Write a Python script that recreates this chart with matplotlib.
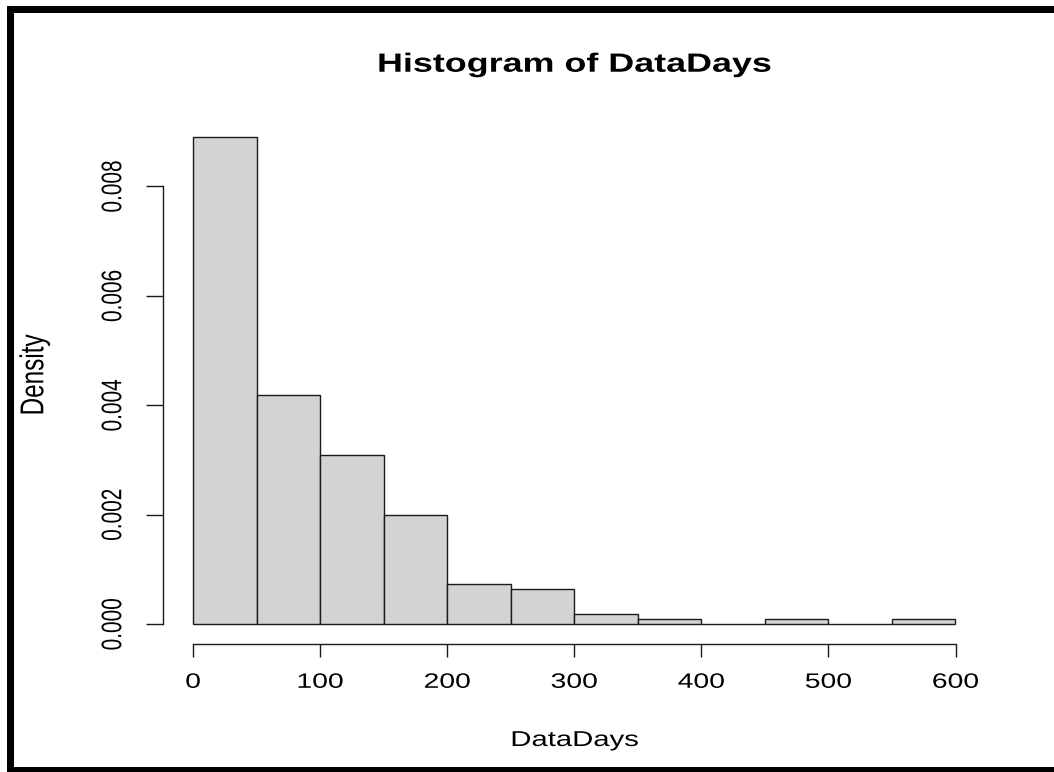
import numpy as np
import matplotlib
matplotlib.use("Agg")
import matplotlib.pyplot as plt
from matplotlib.patches import Rectangle
from matplotlib.patheffects import AbstractPathEffect
from matplotlib.transforms import Affine2D

# histogram of DataDays: bin edges and counts per bin
bin_edges = [0, 50, 100, 150, 200, 250, 300, 350, 400, 450, 500, 550, 600]
counts = [98, 46, 34, 22, 8, 7, 2, 1, 0, 1, 0, 1]

xticks = [0, 100, 200, 300, 400, 500, 600]
xtick_labels = ["0", "100", "200", "300", "400", "500", "600"]
yticks = [0.000, 0.002, 0.004, 0.006, 0.008]
ytick_labels = ["0.000", "0.002", "0.004", "0.006", "0.008"]

edges = np.array(bin_edges, dtype=float)
widths = np.diff(edges)
density = np.array(counts) / (np.sum(counts) * widths)


class Widen(AbstractPathEffect):
    """Stretch drawn text horizontally about its own centre."""

    def __init__(self, sx):
        super().__init__()
        self.sx = sx

    def draw_path(self, renderer, gc, tpath, affine, rgbFace=None):
        pts = affine.transform(tpath.vertices)
        if len(pts):
            cx = (pts[:, 0].min() + pts[:, 0].max()) / 2
            affine = affine + Affine2D().translate(-cx, 0).scale(self.sx, 1).translate(cx, 0)
        renderer.draw_path(gc, tpath, affine, rgbFace)


W, H = 1054, 772
fig = plt.figure(figsize=(W / 100, H / 100), dpi=100)
plt.rcParams['font.family'] = ['Liberation Sans', 'DejaVu Sans']

# plot region in pixels
left, right, top, bottom = 162.5, 986.0, 117.0, 643.5
ax = fig.add_axes([left / W, 1 - bottom / H, (right - left) / W, (bottom - top) / H])

ax.bar(edges[:-1], density, width=widths, align='edge',
       color='#d3d3d3', edgecolor='#1a1a1a', linewidth=1.0)

# R style limits: 4% padding on each side
xr = edges[-1] - edges[0]
ax.set_xlim(edges[0] - 0.04 * xr, edges[-1] + 0.04 * xr)
ymax = density.max()
ax.set_ylim(-0.04 * ymax, 1.04 * ymax)

for s in ['top', 'right']:
    ax.spines[s].set_visible(False)
ax.spines['left'].set_bounds(yticks[0], yticks[-1])
ax.spines['bottom'].set_bounds(xticks[0], xticks[-1])
for s in ['left', 'bottom']:
    ax.spines[s].set_linewidth(1.0)
    ax.spines[s].set_color('#1a1a1a')

ax.set_xticks(xticks, labels=xtick_labels, fontsize=15)
ax.set_yticks(yticks, labels=ytick_labels, fontsize=15, rotation=90, va='center')
ax.tick_params(axis='x', length=9.6, width=1.0, pad=11.5, color='#1a1a1a')
ax.tick_params(axis='y', length=12.2, width=1.0, pad=16.5, color='#1a1a1a')

ax.set_title("Histogram of DataDays", fontsize=19, fontweight='bold', pad=32.6)
ax.set_xlabel("DataDays", fontsize=15.5)
ax.xaxis.set_label_coords(0.5, -0.1947)
ax.xaxis.label.set_verticalalignment('baseline')
ax.set_ylabel("Density", fontsize=17.5)
ax.yaxis.set_label_coords(-0.1548, 0.51)
ax.yaxis.label.set_verticalalignment('center')

wide = [Widen(1.36)]
for t in ax.get_xticklabels() + ax.get_yticklabels() + [ax.title, ax.xaxis.label, ax.yaxis.label]:
    t.set_path_effects(wide)

# black frame round the picture (top, left, bottom)
for x0, y0, x1, y1 in [(7, 6, W, 13), (7, 6, 14, H), (7, 767, W, H)]:
    fig.add_artist(Rectangle((x0 / W, 1 - y1 / H), (x1 - x0) / W, (y1 - y0) / H,
                             transform=fig.transFigure, facecolor='black',
                             edgecolor='none'))

fig.savefig("out.png", dpi=100)
